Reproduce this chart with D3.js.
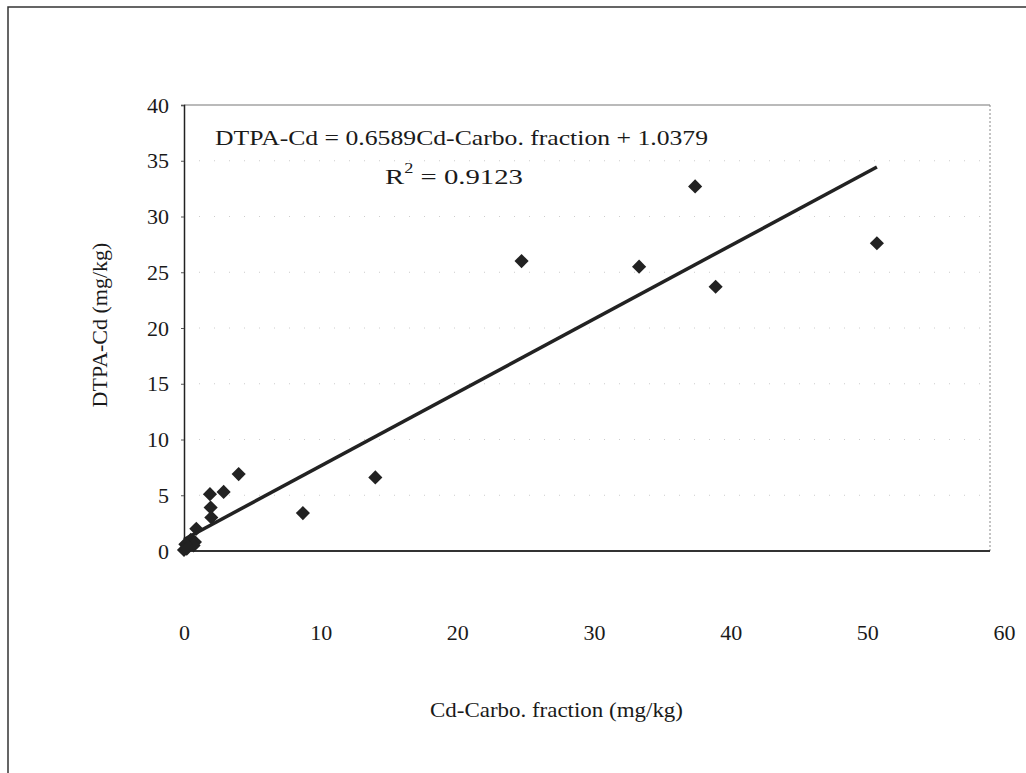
<!DOCTYPE html>
<html>
<head>
<meta charset="utf-8">
<script src="https://cdn.jsdelivr.net/npm/d3@7"></script>
<style>
  body { margin: 0; background: #fff; }
  svg text { font-family: "Liberation Serif", "Times New Roman", serif; fill: #1a1a1a; }
</style>
</head>
<body>
<svg width="1026" height="773"></svg>
<script>
// values
const carboFraction = [50.7, 37.4, 33.3, 38.9, 24.7, 14.0, 8.7, 4.0, 2.9, 1.9, 1.95, 2.0, 0.9,
                       0.5, 0.8, 0.3, 0.7, 0.1, 0.0, 0.2];
const dtpaCd = [27.6, 32.7, 25.5, 23.7, 26.0, 6.6, 3.4, 6.9, 5.3, 5.1, 3.9, 3.0, 2.0,
                1.0, 0.8, 0.4, 0.5, 0.6, 0.1, 0.2];
const xTicks = [0, 10, 20, 30, 40, 50, 60];
const yTicks = [0, 5, 10, 15, 20, 25, 30, 35, 40];
const slope = 0.6589;
const intercept = 1.0379;
const equationLabel = 'DTPA-Cd = 0.6589Cd-Carbo. fraction + 1.0379';
const r2Label = '0.9123';
const xAxisLabel = 'Cd-Carbo. fraction (mg/kg)';
const yAxisLabel = 'DTPA-Cd (mg/kg)';

const data = carboFraction.map((x, i) => ({ x: x, y: dtpaCd[i] }));

const svg = d3.select('svg');

// outer chart border (only top and left edges show in the window)
svg.append('rect')
    .attr('x', 8).attr('y', 7)
    .attr('width', 1040).attr('height', 800)
    .attr('fill', 'none')
    .attr('stroke', '#333')
    .attr('stroke-width', 1.5);

const plot = { left: 184, top: 105, right: 990, bottom: 551 };

const xScale = d3.scaleLinear().domain([0, 60]).range([184, 1004]);
const yScale = d3.scaleLinear().domain([0, 40]).range([plot.bottom, plot.top]);

// faint gridlines (barely survive in the scan)
svg.append('g')
    .selectAll('line')
    .data(yTicks.filter(t => t > 0 && t < 40))
    .join('line')
    .attr('x1', plot.left).attr('x2', plot.right)
    .attr('y1', d => yScale(d)).attr('y2', d => yScale(d))
    .attr('stroke', '#ccc')
    .attr('stroke-width', 1)
    .attr('stroke-dasharray', '1,14');

// plot area frame: top grey, right dotted
svg.append('line')
    .attr('x1', plot.left).attr('x2', plot.right)
    .attr('y1', plot.top).attr('y2', plot.top)
    .attr('stroke', '#777').attr('stroke-width', 1.2);
svg.append('line')
    .attr('x1', plot.right).attr('x2', plot.right)
    .attr('y1', plot.top).attr('y2', plot.bottom)
    .attr('stroke', '#888').attr('stroke-width', 1)
    .attr('stroke-dasharray', '2,2');

// y axis
const yAxis = d3.axisLeft(yScale)
    .tickValues(yTicks)
    .tickSize(3)
    .tickPadding(12);
const yAxisG = svg.append('g')
    .attr('transform', `translate(${plot.left}, 0)`)
    .call(yAxis);
yAxisG.select('.domain').attr('stroke', '#222').attr('stroke-width', 1.5);
yAxisG.selectAll('.tick line').attr('stroke', '#555');
yAxisG.selectAll('text').style('font-size', '22px').attr('fill', '#1a1a1a');

// x axis: tick labels sit far below the axis line
const xAxis = d3.axisBottom(xScale)
    .tickValues(xTicks)
    .tickSize(0)
    .tickPadding(73);
const xAxisG = svg.append('g')
    .attr('transform', `translate(0, ${plot.bottom})`)
    .call(xAxis);
xAxisG.select('.domain').remove();
xAxisG.selectAll('text').style('font-size', '22px').attr('fill', '#1a1a1a');

svg.append('line')
    .attr('x1', plot.left).attr('x2', plot.right)
    .attr('y1', plot.bottom).attr('y2', plot.bottom)
    .attr('stroke', '#333').attr('stroke-width', 2);

// trend line over the data range
const xExtent = d3.extent(data, d => d.x);
const lineGenerator = d3.line()
    .x(d => xScale(d))
    .y(d => yScale(slope * d + intercept));
svg.append('path')
    .attr('d', lineGenerator(xExtent))
    .attr('stroke', '#222')
    .attr('stroke-width', 3.5)
    .attr('fill', 'none');

// diamond markers
const diamond = d3.symbol().type(d3.symbolSquare).size(100);
svg.append('g')
    .selectAll('path')
    .data(data)
    .join('path')
    .attr('d', diamond)
    .attr('transform', d => `translate(${xScale(d.x)}, ${yScale(d.y)}) rotate(45)`)
    .attr('fill', '#222');

// equation and R squared
svg.append('text')
    .attr('x', 215)
    .attr('y', 145)
    .attr('textLength', 493)
    .attr('lengthAdjust', 'spacingAndGlyphs')
    .style('font-size', '22px')
    .text(equationLabel);

const r2 = svg.append('text')
    .attr('x', 385)
    .attr('y', 184)
    .attr('textLength', 138)
    .attr('lengthAdjust', 'spacingAndGlyphs')
    .style('font-size', '22px');
r2.append('tspan').text('R');
r2.append('tspan').attr('dy', -11).style('font-size', '14px').text('2');
r2.append('tspan').attr('dy', 11).text(' = ' + r2Label);

// axis titles
svg.append('text')
    .attr('x', 430)
    .attr('y', 717)
    .attr('textLength', 253)
    .attr('lengthAdjust', 'spacingAndGlyphs')
    .style('font-size', '22px')
    .text(xAxisLabel);

svg.append('text')
    .attr('transform', 'translate(107, 325) rotate(-90)')
    .attr('text-anchor', 'middle')
    .style('font-size', '22px')
    .text(yAxisLabel);
</script>
</body>
</html>
